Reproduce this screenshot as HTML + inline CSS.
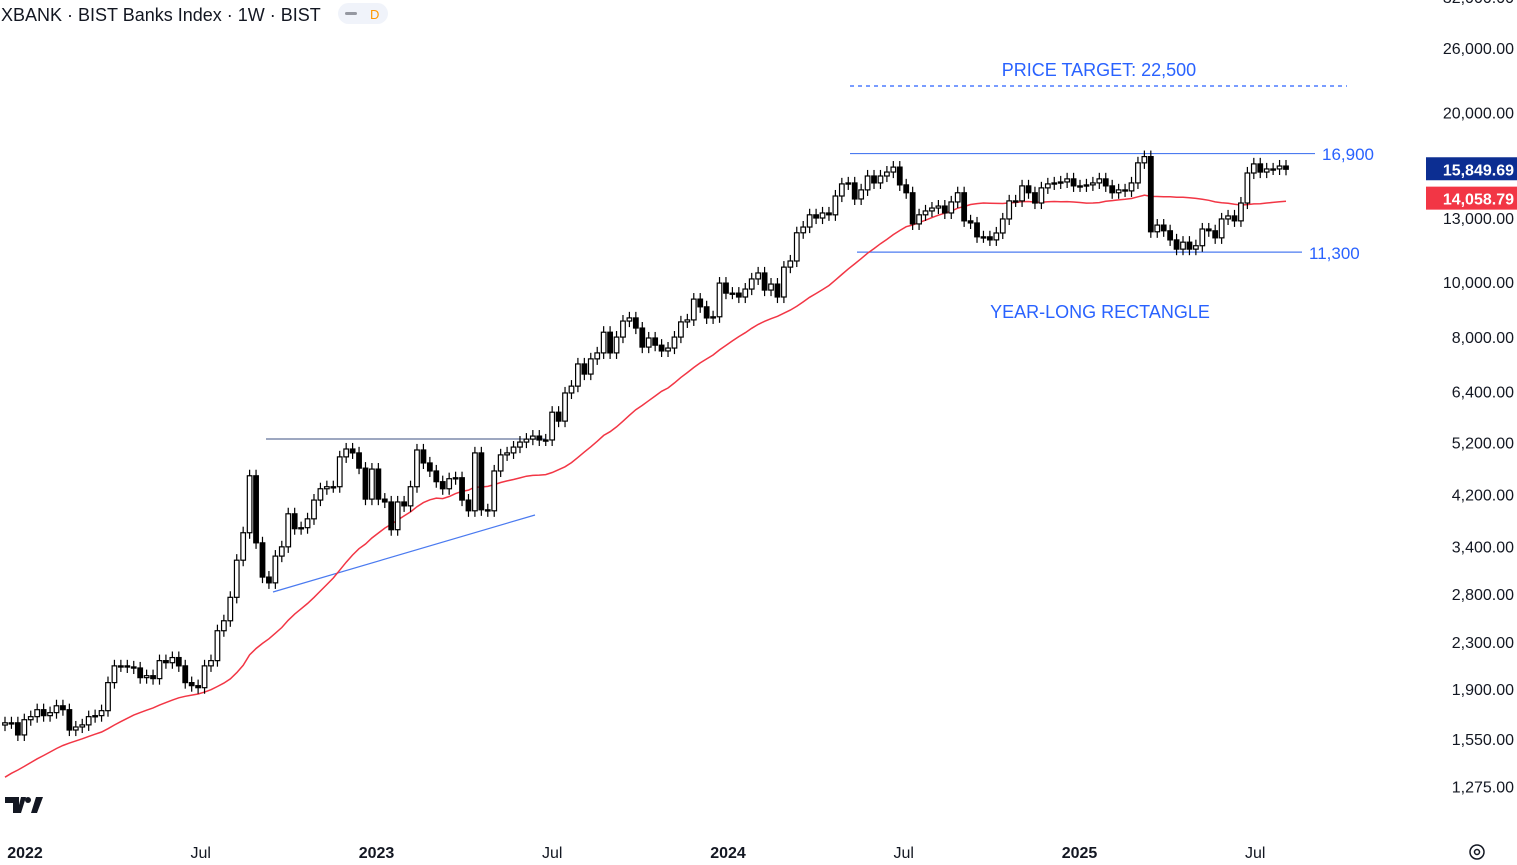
<!DOCTYPE html>
<html><head><meta charset="utf-8">
<style>
html,body{margin:0;padding:0;background:#fff;}
body{width:1517px;height:865px;overflow:hidden;position:relative;font-family:"Liberation Sans","DejaVu Sans",sans-serif;}
svg{position:absolute;left:0;top:0;}
</style></head>
<body>
<svg id="chart" width="1517" height="865" viewBox="0 0 1517 865" xmlns="http://www.w3.org/2000/svg">
  <g id="annotations"></g>
  <g id="ma"></g>
  <g id="candles"></g>
  <g id="yaxis"></g>
  <g id="xaxis"></g>
  <text x="1" y="21" font-size="18" fill="#131722">XBANK · BIST Banks Index · 1W · BIST</text>
  <g>
    <rect x="338" y="3" width="50" height="21" rx="10.5" fill="#f0f3fa"/>
    <rect x="345" y="12" width="12" height="3" rx="1.5" fill="#9598a1"/>
    <text x="370" y="19" font-size="13" fill="#ff9800">D</text>
  </g>
  <g>
    <path d="M5 797h14v16h-6v-10h-8z M21 797h5l-5 16h-4z" fill="#131722"/>
    <circle cx="28" cy="800" r="3" fill="#131722"/>
    <path d="M31 813l5-16h7l-6 16z" fill="#131722"/>
  </g>
  <g>
    <circle cx="1477" cy="852" r="7" fill="none" stroke="#131722" stroke-width="1.5"/>
    <circle cx="1477" cy="852" r="2.5" fill="none" stroke="#131722" stroke-width="1.5"/>
  </g>
</svg>
<script>
const closes=[1655,1655,1575,1676,1697,1746,1704,1725,1774,1746,1607,1627,1641,1697,1704,1739,1950,2088,2088,2079,2070,1990,2006,1982,2133,2115,2160,2088,1950,1926,1910,2088,2133,2410,2510,2762,3214,3595,4536,3450,3000,2930,3268,3394,3884,3655,3670,3805,4108,4302,4338,4338,4900,5060,4980,4680,4124,4662,4124,4076,3640,4076,4012,4338,5040,4780,4626,4428,4302,4482,4500,4108,3932,4980,3948,3932,4626,4940,4980,5100,5205,5268,5334,
5250,5250,5880,5670,6360,6540,7160,6870,7310,7490,8150,7490,7990,8530,8640,8290,7670,7960,7730,7550,7640,7990,8500,8570,9330,9040,8640,8680,9960,9560,9560,9410,9720,10130,10380,9680,9920,9410,10630,10900,12230,12520,13160,12990,13260,13160,14210,14930,14990,14040,14570,15420,14990,15420,15670,15990,14870,14400,12680,13160,13370,13530,13640,13260,13870,14400,12840,12730,12030,12030,11880,12220,12940,13930,13930,14810,14400,13810,14690,14930,14990,15050,15240,14810,14810,14870,
14990,15240,14810,14400,14570,14510,14990,16270,16690,12280,12620,12330,11880,11440,11770,11440,11600,12420,12330,11980,12940,13100,12840,13810,15610,16200,15670,15870,15870,16060,15850];
const firstOpen=1640;
const history=[1010,1040,1060,1050,1090,1120,1100,1150,1180,1170,1210,1250,1230,1280,1320,1300,1350,1390,1420,1400,1460,1500,1480,1530,1570,1600,1580,1620,1650];
const yTicks=[32000,26000,20000,13000,10000,8000,6400,5200,4200,3400,2800,2300,1900,1550,1275];
const xLabels=["2022","Jul","2023","Jul","2024","Jul","2025","Jul"];
const xLabelPos=[0,0.5,1,1.5,2,2.5,3,3.5];
const maPeriod=30;
const lastPrice=15849.69, maLast=14058.79;
const targets=[22500,16900,11300];

const NS="http://www.w3.org/2000/svg";
function yS(v){return 48+245*Math.log(26000/v);}
const X0=5,X1=1286;
function xI(i){return X0+(X1-X0)*i/(closes.length-1);}
function xYear(t){return 25+t*351.5;}
function mk(tag,attrs,parent){const e=document.createElementNS(NS,tag);for(const k in attrs)e.setAttribute(k,attrs[k]);parent.appendChild(e);return e;}

const cg=document.getElementById('candles');
for(let i=0;i<closes.length;i++){
  const o=i===0?firstOpen:closes[i-1], c=closes[i];
  const hi=Math.max(o,c)*1.025, lo=Math.min(o,c)/1.025;
  const x=xI(i);
  const g=mk('g',{},cg);
  
  
  mk('line',{x1:x,x2:x,y1:yS(hi),y2:yS(lo),stroke:'#000','stroke-width':1.2},g);
  const top=yS(Math.max(o,c)), bot=yS(Math.min(o,c));
  mk('rect',{x:x-2.3,y:top,width:4.6,height:Math.max(1.2,bot-top),fill:c>=o?'#fff':'#000',stroke:'#000','stroke-width':1.2},g);
}

const all=history.concat(closes);
let pts=[];
for(let i=0;i<closes.length;i++){
  const j=i+history.length;
  const s=all.slice(Math.max(0,j-maPeriod+1),j+1);
  const m=s.reduce((a,b)=>a+b,0)/s.length;
  pts.push(xI(i).toFixed(1)+','+yS(m).toFixed(1));
}
const mg=document.getElementById('ma');
const ml=mk('polyline',{points:pts.join(' '),fill:'none',stroke:'#f23645','stroke-width':1.5},mg);



const ag=document.getElementById('annotations');
const blue='#2962ff';
let l;
l=mk('line',{x1:850,x2:1347,y1:86,y2:86,stroke:blue,'stroke-width':1.2,'stroke-dasharray':'4 4'},ag);

l=mk('line',{x1:850,x2:1315,y1:yS(targets[1]),y2:yS(targets[1]),stroke:'#4c7bf0','stroke-width':1.2},ag);

l=mk('line',{x1:857,x2:1302,y1:yS(targets[2]),y2:yS(targets[2]),stroke:'#4c7bf0','stroke-width':1.2},ag);

l=mk('line',{x1:266,x2:545,y1:439,y2:439,stroke:'#3b4f80','stroke-width':1},ag);

l=mk('line',{x1:273,x2:535,y1:592,y2:515,stroke:'#4a7af0','stroke-width':1.2},ag);

function txt(x,y,s,attrs,name){const t=mk('text',Object.assign({x:x,y:y},attrs),ag);t.textContent=s;return t;}
txt(1099,76,'PRICE TARGET: 22,500',{'font-size':18,fill:blue,'text-anchor':'middle'},'price-target-label');
txt(1322,160,'16,900',{'font-size':17,fill:blue},'rectangle-top-label');
txt(1309,259,'11,300',{'font-size':17,fill:blue},'rectangle-bottom-label');
txt(1100,318,'YEAR-LONG RECTANGLE',{'font-size':18,fill:blue,'text-anchor':'middle'},'rectangle-label');

const yg=document.getElementById('yaxis');
for(const v of yTicks){
  const t=mk('text',{x:1514,y:yS(v)+6,'font-size':16,fill:'#131722','text-anchor':'end'},yg);
  t.textContent=v.toLocaleString('en-US')+'.00';
  
  
}
function badge(v,color,name){
  const y=yS(v);
  const g=mk('g',{},yg);
  
  
  mk('rect',{x:1426,y:y-12,width:91,height:23,fill:color},g);
  const t=mk('text',{x:1514,y:y+6,'font-size':16,fill:'#fff','text-anchor':'end','font-weight':'bold'},g);
  t.textContent=v.toLocaleString('en-US',{minimumFractionDigits:2});
}
badge(lastPrice,'#0c2e92','last-price-badge');
badge(maLast,'#f23645','ma-value-badge');

const xg=document.getElementById('xaxis');
xLabels.forEach((s,i)=>{
  const yr=s.length===4;
  const t=mk('text',{x:xYear(xLabelPos[i]),y:858,'font-size':16,fill:'#131722','text-anchor':'middle','font-weight':yr?'bold':'normal'},xg);
  t.textContent=s;
  
  
});
</script>
</body></html>
